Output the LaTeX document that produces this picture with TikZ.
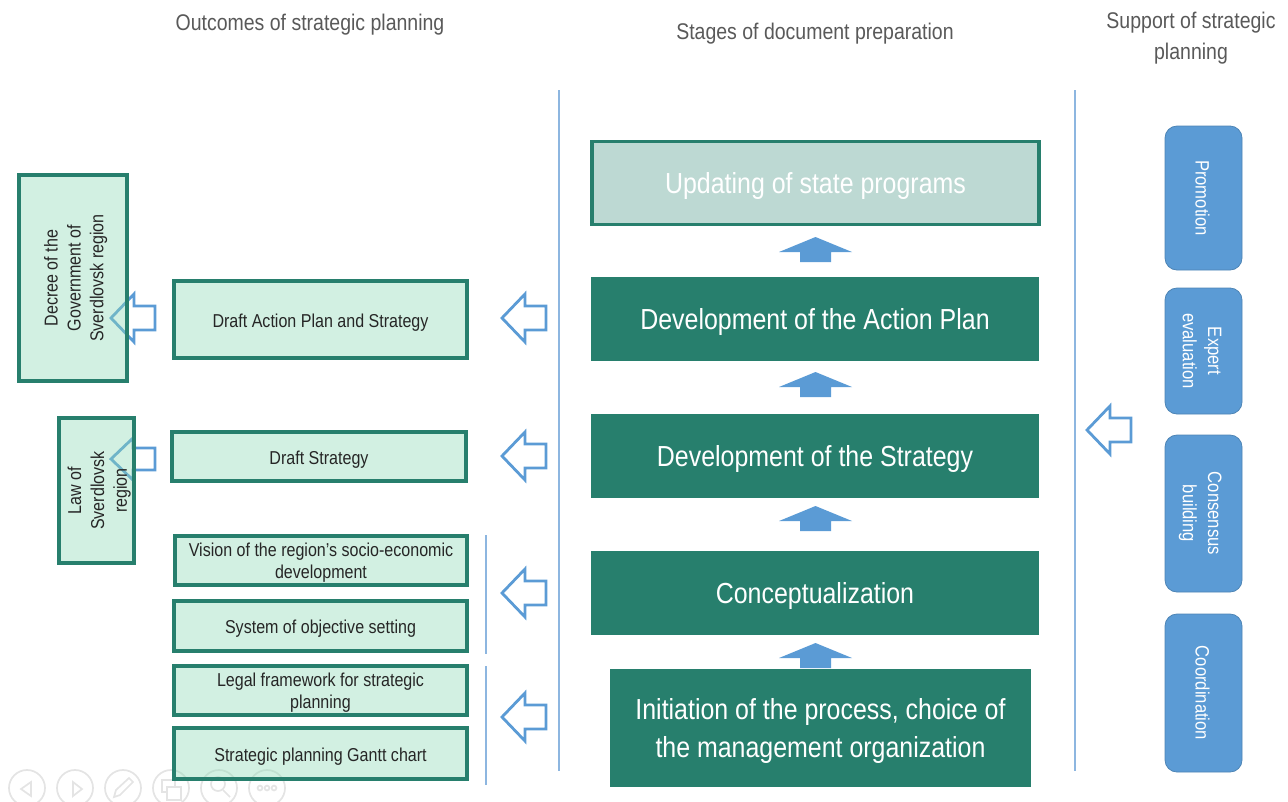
\documentclass[tikz,border=0pt]{standalone}
\usepackage{fontspec}
\setmainfont[FakeStretch=0.86]{Liberation Sans}
\definecolor{dkgreen}{HTML}{277F6D}
\definecolor{ltgreen}{HTML}{8EDAB6}
\definecolor{pale}{HTML}{BDD9D3}
\definecolor{blue}{HTML}{5B9BD5}
\definecolor{rule}{HTML}{8DB6E0}
\definecolor{titlegrey}{HTML}{595959}
\definecolor{toolgrey}{HTML}{E4E4E4}
\definecolor{ink}{HTML}{262626}
\tikzset{
  x=0.75pt,y=-0.75pt,
  titletext/.style={text=titlegrey,font=\fontsize{17}{23}\selectfont,align=center,inner sep=0pt},
  outcome/.style={draw=dkgreen,line width=2.6pt,fill=ltgreen,fill opacity=.4,draw opacity=1,text opacity=1,
    text=ink,font=\fontsize{14}{17.2}\selectfont,align=center,inner sep=0pt,anchor=center},
  stage/.style={fill=dkgreen,text=white,font=\fontsize{21.75}{28}\selectfont,align=center,inner sep=0pt},
  support/.style={fill=blue,draw=blue!85!black,line width=.6pt,rounded corners=9pt,text=white,
    font=\fontsize{14.5}{18.8}\selectfont,align=center,inner sep=0pt,rotate=-90},
  vrule/.style={draw=rule,line width=1pt},
  openarrow/.style={draw=blue,line width=2.1pt,fill=none,miter limit=8},
  solidarrow/.style={fill=blue,draw=none},
  tool/.style={draw=toolgrey,line width=1.3pt,fill=none},
}
% text set lower in its box by half of the space added above it
\newcommand{\dropby}[2]{\vbox{\kern#1\hbox{\begin{tabular}{@{}c@{}}#2\end{tabular}}}}
\newcommand{\drop}[1]{\dropby{4.4pt}{#1}}
% the same for two lines in a low box: takes up no room, so the box keeps its height
\newcommand{\dropflat}[1]{\raisebox{-5.4pt}[0pt][0pt]{\begin{tabular}{@{}c@{}}#1\end{tabular}}}
\newcommand{\pxbox}[7]{\node[#6,minimum width=#4*0.75pt-#2*0.75pt,minimum height=#5*0.75pt-#3*0.75pt] (#1) at ({(#2+#4)/2},{(#3+#5)/2}) {#7};}
% tip x, centre y
\newcommand{\openarr}[2]{\draw[openarrow] (#1,#2) -- ++(23,-24) -- ++(0,12) -- ++(21,0) -- ++(0,24) -- ++(-21,0) -- ++(0,12) -- cycle;}
\newcommand{\smallarr}[2]{\draw[openarrow] (#1,#2) -- ++(22,-21) -- ++(0,10) -- ++(22,0) -- ++(0,22) -- ++(-22,0) -- ++(0,10) -- cycle;}
\newcommand{\uparr}[1]{\fill[solidarrow] (815.5,#1) -- (852,#1+15) -- (831,#1+15) -- (831,#1+25) -- (800,#1+25) -- (800,#1+15) -- (779,#1+15) -- cycle;}
\begin{document}
\begin{tikzpicture}
\useasboundingbox (0,0) rectangle (1288,801);
% toolbar
\foreach \cx in {27,75,123,171,219,267} \draw[tool] (\cx,788) circle (18);
\draw[tool] (31,782) -- (21,789) -- (31,796) -- cycle;
\draw[tool] (73,782) -- (82,789) -- (73,796) -- cycle;
\draw[tool] (114,797) -- (116,790) -- (129,778) -- (133,782) -- (120,795) -- cycle;
\draw[tool] (162,780) rectangle (175,792);
\draw[tool,fill=white] (167,787) rectangle (181,800);
\draw[tool] (218,784) circle (7); \draw[tool] (223,790) -- (230,797);
\foreach \dx in {260,267,274} \draw[tool] (\dx,788) circle (2.4);
% titles
\node[titletext] (t1) at (310,22) {\dropby{3pt}{Outcomes of strategic planning}};
\node[titletext] (t2) at (815,31) {\dropby{3pt}{Stages of document preparation}};
\node[titletext] (t3) at (1191,37) {\dropby{1.5pt}{Support of strategic\\planning}};
% rules
\coordinate (r1a) at (559,90); \coordinate (r1b) at (559,771);
\coordinate (r2a) at (1075,90); \coordinate (r2b) at (1075,771);
\coordinate (r3a) at (486,535); \coordinate (r3b) at (486,654);
\coordinate (r4a) at (486,666); \coordinate (r4b) at (486,785);
\draw[vrule] (r1a) -- (r1b);
\draw[vrule] (r2a) -- (r2b);
\draw[vrule] (r3a) -- (r3b);
\draw[vrule] (r4a) -- (r4b);
% arrows lying under the outcome boxes
\openarr{111}{318}
\smallarr{111}{459}
% outcome boxes
\pxbox{decree}{19}{175}{127}{381}{outcome}{\rotatebox{90}{\drop{Decree of the\\Government of\\Sverdlovsk region}}}
\pxbox{law}{59}{418}{134}{563}{outcome}{\rotatebox{90}{\drop{Law of\\Sverdlovsk\\region}}}
\pxbox{action}{174}{281}{467}{358}{outcome}{\drop{Draft Action Plan and Strategy}}
\pxbox{strategy}{172}{432}{466}{481}{outcome}{\drop{Draft Strategy}}
\pxbox{vision}{175}{536}{467}{585}{outcome}{\dropflat{Vision of the region’s socio-economic\\development}}
\pxbox{system}{174}{601}{467}{651}{outcome}{\drop{System of objective setting}}
\pxbox{legal}{174}{666}{467}{715}{outcome}{\dropflat{Legal framework for strategic\\planning}}
\pxbox{gantt}{174}{728}{467}{779}{outcome}{\drop{Strategic planning Gantt chart}}
% open arrows between columns
\openarr{502}{318}
\openarr{502}{456}
\openarr{502}{593}
\openarr{502}{717}
\openarr{1087}{430}
% stages
\node[stage,draw=dkgreen,line width=2.6pt,fill=pale,minimum width=335.2pt,minimum height=62.3pt] (updating) at (815.5,183) {\drop{Updating of state programs}};
\pxbox{actionplan}{591}{277}{1039}{361}{stage}{\drop{Development of the Action Plan}}
\pxbox{devstrategy}{591}{414}{1039}{498}{stage}{\drop{Development of the Strategy}}
\pxbox{concept}{591}{551}{1039}{635}{stage}{\drop{Conceptualization}}
\pxbox{initiation}{610}{669}{1031}{787}{stage}{\drop{Initiation of the process, choice of\\the management organization}}
\uparr{237}
\uparr{372}
\uparr{506}
\uparr{643}
% support
\node[support,minimum width=108pt,minimum height=57.75pt] (promotion) at (1203.5,198) {\dropby{4.5pt}{Promotion}};
\node[support,minimum width=94.5pt,minimum height=57.75pt] (expert) at (1203.5,351) {\dropby{4.5pt}{Expert\\evaluation}};
\node[support,minimum width=117.75pt,minimum height=57.75pt] (consensus) at (1203.5,513.5) {\dropby{4.5pt}{Consensus\\building}};
\node[support,minimum width=118.5pt,minimum height=57.75pt] (coordination) at (1203.5,693) {\dropby{4.5pt}{Coordination}};
\end{tikzpicture}
\end{document}
